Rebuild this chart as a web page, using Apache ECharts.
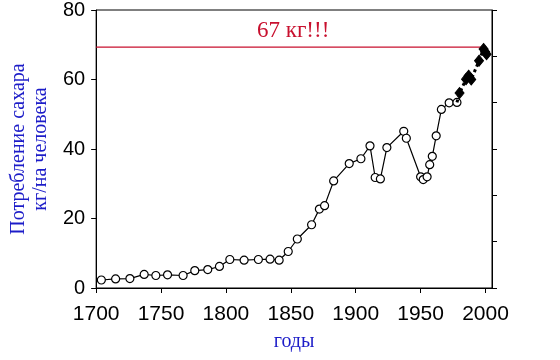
<!DOCTYPE html>
<html>
<head>
<meta charset="utf-8">
<script src="https://cdn.jsdelivr.net/npm/echarts@6/dist/echarts.min.js"></script>
<style>html,body{margin:0;padding:0;background:#fff;}#c{width:560px;height:360px;}</style>
</head>
<body>
<div id="c"></div>
<script>
// historical data (open circles)
var yearsHist = [1704,1715,1726,1737,1746,1755,1767,1776,1786,1795,1803,1814,1825,1834,1841,1848,1855,1866,1872,1876,1883,1895,1904,1911,1915,1919,1924,1937,1939,1950,1952,1955,1957,1959,1962,1966,1972,1978];
var valsHist = [2.3,2.6,2.7,3.9,3.6,3.8,3.6,5.0,5.3,6.2,8.2,8.0,8.2,8.3,8.0,10.5,14.1,18.2,22.7,23.7,30.8,35.8,37.2,40.9,31.8,31.4,40.4,45.1,43.1,32.0,31.2,32.0,35.5,37.9,43.8,51.4,53.3,53.4];
// recent data (filled diamonds, dotted)
var yearsRecent = [1978,1980,1985,1987,1989,1995,1998.5,1999.7,2000.8];
var valsRecent = [53.4,56.1,60.1,61.1,60.0,65.4,68.8,68.0,67.3];
// reference level line
var refYears = [1700, 1999];
var refLevel = 69.3;
var refText = '67 кг!!!';
var xTicks = [1700,1750,1800,1850,1900,1950,2000];
var yTicks = [0,20,40,60,80];
var yTitle = 'Потребление сахара\nкг/на человека';
var xTitle = 'годы';

var histData = yearsHist.map(function(y,i){return [y, valsHist[i]];});
var recentData = yearsRecent.map(function(y,i){
  var d = {value:[y, valsRecent[i]]};
  if (i === 0) d.symbol = 'none';
  return d;
});
var refData = refYears.map(function(y){return [y, refLevel];});

var chart = echarts.init(document.getElementById('c'), null, {renderer:'canvas'});
chart.setOption({
  animation:false,
  backgroundColor:'#fff',
  grid:{left:96, right:68, top:9, bottom:72, show:true, borderColor:'#000', borderWidth:1, backgroundColor:'transparent'},
  xAxis:{
    type:'value', min:1700, max:2005,
    axisLine:{show:true, lineStyle:{color:'#000', width:1}},
    axisTick:{show:true, inside:false, length:5, lineStyle:{color:'#000'}, customValues:xTicks},
    axisLabel:{color:'#000', fontFamily:'Liberation Sans', fontSize:21, margin:16, customValues:xTicks,
      formatter:function(v){return String(v);}},
    splitLine:{show:false},
    name:xTitle, nameLocation:'middle', nameGap:44,
    nameTextStyle:{color:'#1c1cc8', fontFamily:'Liberation Serif', fontSize:20}
  },
  yAxis:[{
    type:'value', min:0, max:80, interval:20,
    axisLine:{show:true, lineStyle:{color:'#000', width:1}},
    axisTick:{show:true, inside:false, length:5, lineStyle:{color:'#000'}},
    axisLabel:{color:'#000', fontFamily:'Liberation Sans', fontSize:20, margin:11},
    splitLine:{show:false},
    name:yTitle, nameLocation:'middle', nameGap:44, nameRotate:90,
    nameTextStyle:{color:'#1c1cc8', fontFamily:'Liberation Serif', fontSize:20, lineHeight:22, align:'center'}
  },{
    type:'value', min:0, max:6, interval:1, position:'right',
    axisLine:{show:true, lineStyle:{color:'#000', width:1}},
    axisTick:{show:true, inside:false, length:5, lineStyle:{color:'#000'}},
    axisLabel:{show:false},
    splitLine:{show:false}
  }],
  graphic:[{
    type:'text', left:257, top:19,
    style:{text:refText, fill:'#c8102e', font:'23px "Liberation Serif"'}
  }],
  series:[{
    type:'line', data:refData, yAxisIndex:0,
    symbol:'none', silent:true,
    lineStyle:{color:'#c8102e', width:1.3},
    z:2
  },{
    type:'line', data:histData, yAxisIndex:0,
    symbol:'circle', symbolSize:8,
    itemStyle:{color:'#fff', borderColor:'#000', borderWidth:1.2},
    lineStyle:{color:'#000', width:1.2},
    z:3
  },{
    type:'line', data:recentData, yAxisIndex:0,
    symbol:'diamond', symbolSize:[9,11],
    itemStyle:{color:'#000', borderColor:'#000'},
    lineStyle:{color:'#000', width:3, type:'dotted'},
    z:4
  }]
});
</script>
</body>
</html>
